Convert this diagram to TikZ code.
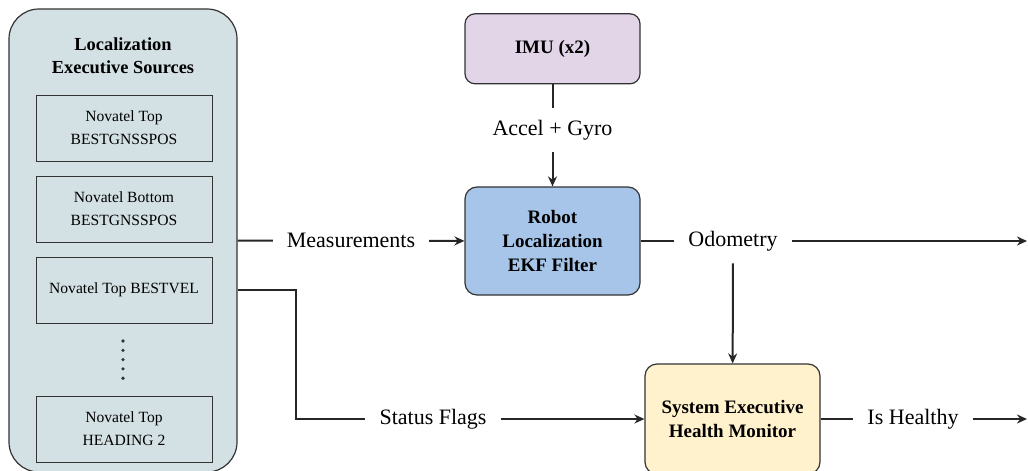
\documentclass[tikz,border=0pt]{standalone}
\usepackage{fontspec}
\setmainfont{Liberation Serif}
\usetikzlibrary{arrows.meta,positioning}
\definecolor{srcgray}{HTML}{D3E1E4}
\definecolor{imupurple}{HTML}{E1D5E7}
\definecolor{ekfblue}{HTML}{A6C5E8}
\definecolor{monyellow}{HTML}{FFF2CC}
\definecolor{edgegray}{HTML}{333333}

\begin{document}
\begin{tikzpicture}[
  x=0.5pt,y=-0.5pt,
  node distance=7pt,
  box/.style={draw=edgegray,line width=0.6pt,rounded corners=6pt,align=center,minimum width=87.5pt,font=\fontsize{9.5}{12}\selectfont\bfseries},
  srcbox/.style={draw=edgegray,line width=0.5pt,align=center,minimum width=88pt,minimum height=33pt,fill=srcgray,font=\fontsize{7.8}{11.5}\selectfont},
  lbl/.style={fill=white,inner xsep=7pt,inner ysep=6pt,font=\fontsize{11}{13}\selectfont},
  conn/.style={line width=1pt,draw=black!85},
  arrow/.style={conn,-{Stealth[length=5pt,width=4.5pt]}}
]
\useasboundingbox (0,0) rectangle (1028,471);

% sources column
\node[draw=edgegray,line width=0.6pt,fill=srcgray,rounded corners=15pt,minimum width=114pt,minimum height=231.5pt] (src) at (123,240.5) {};
\node[align=center,font=\fontsize{9.2}{11.5}\selectfont\bfseries] (title) at (123,56) {Localization\\Executive Sources};
\node[srcbox] (topgnss) at (124,128) {Novatel Top\\BESTGNSSPOS};
\node[srcbox,below=of topgnss] (botgnss) {Novatel Bottom\\BESTGNSSPOS};
\node[srcbox,below=of botgnss] (vel) {Novatel Top BESTVEL};
\node[srcbox,below=36pt of vel] (heading) {Novatel Top\\HEADING 2};
\foreach \k in {0,...,4}
  \fill[edgegray] (123,341+9.3*\k) circle (0.9pt);

% filter and monitor
\node[box,fill=ekfblue,minimum height=54pt] (ekf) at (552.5,241) {Robot\\Localization\\EKF Filter};
\node[box,fill=imupurple,minimum height=35pt,rounded corners=5pt,above=51pt of ekf] (imu) {IMU (x2)};
\node[box,fill=monyellow,minimum height=55pt] (health) at (732.5,419) {System Executive\\Health Monitor};

\node[lbl] (accel) at (552.5,130) {Accel + Gyro};
\node[lbl] (odom) at (733,241) {Odometry};
\node[lbl] (flags) at (433,419) {Status Flags};
\node[lbl] (healthy) at (913,419) {Is Healthy};
\coordinate (odomout) at (1027,241);
\coordinate (healthyout) at (1027,419);

\draw[arrow] (src) -- node[lbl] {Measurements} (ekf);
\draw[conn] (imu) -- (accel);
\draw[arrow] (accel) -- (ekf);
\draw[conn] (ekf) -- (odom);
\draw[arrow] (odom) -- (odomout);
\draw[arrow] (odom) -- (health);
\draw[conn] (src.east |- vel.east) -- ++(58,0) |- (flags);
\draw[arrow] (flags) -- (health);
\draw[conn] (health) -- (healthy);
\draw[arrow] (healthy) -- (healthyout);
\end{tikzpicture}
\end{document}
